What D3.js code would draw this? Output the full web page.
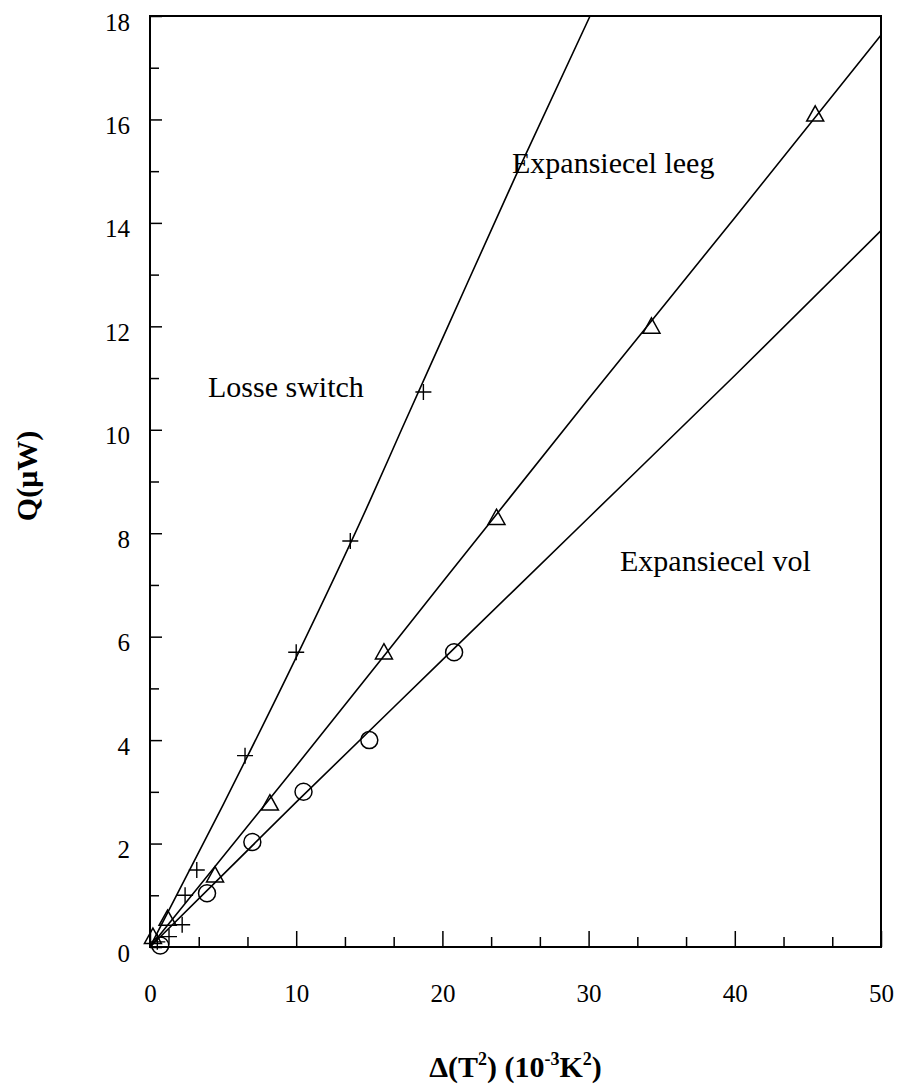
<!DOCTYPE html>
<html>
<head>
<meta charset="utf-8">
<script src="https://cdn.jsdelivr.net/npm/d3@7"></script>
<style>
  body { margin: 0; background: #fff; }
  text { font-family: "Liberation Serif", "Times New Roman", serif; fill: #000; }
</style>
</head>
<body>
<svg></svg>
<script>
let losseX = [0.5, 1.3, 2.2, 2.4, 3.2, 6.5, 10.0, 13.7, 18.7]
let losseY = [0.1, 0.2, 0.43, 1.0, 1.49, 3.7, 5.7, 7.85, 10.73]

let leegX = [0.2, 1.2, 4.45, 8.2, 16.0, 23.7, 34.3, 45.5]
let leegY = [0.2, 0.55, 1.39, 2.78, 5.7, 8.3, 12.0, 16.1]

let volX = [0.7, 3.9, 7.0, 10.5, 15.0, 20.8]
let volY = [0.03, 1.04, 2.03, 3.0, 4.0, 5.7]

// drawn fit curves, as [x, y]
let losseFit = [[0, 0], [5, 2.75], [10, 5.6], [15, 8.6], [17.2, 10.0], [20.3, 11.95], [25, 14.9], [30.1, 18]]
let leegFit = [[0, 0], [10, 3.5], [20, 7.05], [30, 10.6], [40, 14.1], [50, 17.63]]
let volFit = [[0, 0], [10, 2.8], [20, 5.55], [30, 8.3], [40, 11.05], [50, 13.85]]

let xMajor = [0, 10, 20, 30, 40, 50]
let xMinor = [10/3, 20/3, 40/3, 50/3, 70/3, 80/3, 100/3, 110/3, 130/3, 140/3]
let yMajor = [0, 2, 4, 6, 8, 10, 12, 14, 16, 18]
let yMinor = [1, 3, 5, 7, 9, 11, 13, 15, 17]

let svg = d3.select('svg').attr('width', 898).attr('height', 1090)

let mLeft = 150, mRight = 881, mTop = 16, mBottom = 947

let x = d3.scaleLinear().domain([0, 50]).range([mLeft, mRight])
let y = d3.scaleLinear().domain([0, 18]).range([mBottom, mTop])

// axes (ticks point inward)
let yAx = svg.append('g').attr('transform', 'translate(' + mLeft + ',0)')
  .call(d3.axisLeft(y).tickValues(yMajor).tickSize(-12).tickPadding(20).tickFormat(d3.format('d')))
yAx.selectAll('text').attr('dy', 14).attr('font-size', 25)
yAx.selectAll('line').attr('stroke-width', 1.5)

svg.append('g').attr('transform', 'translate(' + mLeft + ',0)')
  .call(d3.axisLeft(y).tickValues(yMinor).tickSize(-9).tickFormat(''))
  .selectAll('line').attr('stroke-width', 1.5)

let xAx = svg.append('g').attr('transform', 'translate(0,' + mBottom + ')')
  .call(d3.axisBottom(x).tickValues(xMajor).tickSize(-16).tickPadding(37).tickFormat(d3.format('d')))
xAx.selectAll('text').attr('font-size', 25)
xAx.selectAll('line').attr('stroke-width', 1.5)

svg.append('g').attr('transform', 'translate(0,' + mBottom + ')')
  .call(d3.axisBottom(x).tickValues(xMinor).tickSize(-10).tickFormat(''))
  .selectAll('line').attr('stroke-width', 1.5)

svg.selectAll('.domain').remove()
svg.selectAll('.tick text').attr('font-family', '"Liberation Serif", serif').attr('fill', '#000')

// frame
svg.append('rect')
  .attr('x', mLeft).attr('y', mTop)
  .attr('width', mRight - mLeft).attr('height', mBottom - mTop)
  .attr('fill', 'none').attr('stroke', 'black').attr('stroke-width', 2)

// fit curves
let line = d3.line()
  .x(function(d) { return x(d[0]) })
  .y(function(d) { return y(d[1]) })
  .curve(d3.curveMonotoneX)

let fits = [losseFit, leegFit, volFit]
svg.selectAll('path.fit')
  .data(fits)
  .enter().append('path')
  .attr('class', 'fit')
  .attr('d', line)
  .attr('fill', 'none')
  .attr('stroke', 'black')
  .attr('stroke-width', 1.6)

// markers
let losse = losseX.map(function(v, i) { return [v, losseY[i]] })
let leeg = leegX.map(function(v, i) { return [v, leegY[i]] })
let vol = volX.map(function(v, i) { return [v, volY[i]] })

svg.selectAll('path.plus')
  .data(losse)
  .enter().append('path')
  .attr('class', 'plus')
  .attr('d', function(d) {
    let cx = x(d[0]), cy = y(d[1]), h = 8
    return 'M' + (cx - h) + ',' + cy + 'H' + (cx + h) + 'M' + cx + ',' + (cy - h) + 'V' + (cy + h)
  })
  .attr('stroke', 'black')
  .attr('stroke-width', 1.4)
  .attr('fill', 'none')

svg.selectAll('path.tri')
  .data(leeg)
  .enter().append('path')
  .attr('class', 'tri')
  .attr('d', function(d) {
    let cx = x(d[0]), cy = y(d[1]), s = 8.5
    return 'M' + cx + ',' + (cy - s) + 'L' + (cx + s) + ',' + (cy + s * 0.8) + 'L' + (cx - s) + ',' + (cy + s * 0.8) + 'Z'
  })
  .attr('stroke', 'black')
  .attr('stroke-width', 1.5)
  .attr('fill', 'none')

svg.selectAll('circle')
  .data(vol)
  .enter().append('circle')
  .attr('cx', function(d) { return x(d[0]) })
  .attr('cy', function(d) { return y(d[1]) })
  .attr('r', 8.5)
  .attr('stroke', 'black')
  .attr('stroke-width', 1.5)
  .attr('fill', 'none')

// labels in the plot
svg.append('text').attr('x', 208).attr('y', 397).attr('font-size', 30).text('Losse switch')
svg.append('text').attr('x', 512).attr('y', 173).attr('font-size', 30).text('Expansiecel leeg')
svg.append('text').attr('x', 620).attr('y', 571).attr('font-size', 30).text('Expansiecel vol')

// axis titles
svg.append('text')
  .attr('transform', 'translate(37,476) rotate(-90)')
  .attr('text-anchor', 'middle')
  .attr('font-size', 30).attr('font-weight', 'bold')
  .text('Q(μW)')

let xt = svg.append('text')
  .attr('x', (mLeft + mRight) / 2).attr('y', 1077)
  .attr('text-anchor', 'middle')
  .attr('font-size', 30).attr('font-weight', 'bold')
xt.append('tspan').text('Δ(T')
xt.append('tspan').attr('font-size', 18).attr('dy', -12).text('2')
xt.append('tspan').attr('dy', 12).text(')  (10')
xt.append('tspan').attr('font-size', 18).attr('dy', -12).text('-3')
xt.append('tspan').attr('dy', 12).text('K')
xt.append('tspan').attr('font-size', 18).attr('dy', -12).text('2')
xt.append('tspan').attr('dy', 12).text(')')
</script>
</body>
</html>
